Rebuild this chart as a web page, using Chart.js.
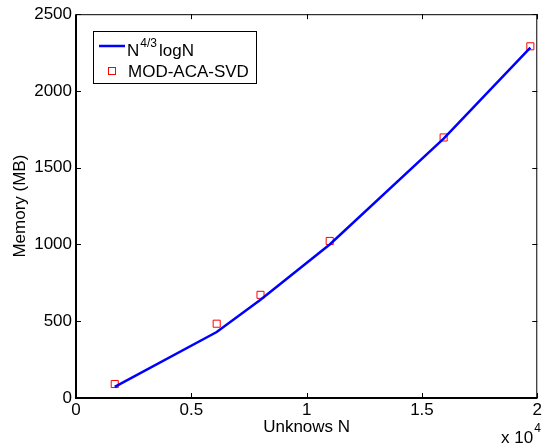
<!DOCTYPE html>
<html>
<head>
<meta charset="utf-8">
<script src="https://cdn.jsdelivr.net/npm/chart.js@4"></script>
<style>
  html, body { margin: 0; padding: 0; background: #fff; }
  #wrap { width: 544px; height: 448px; }
</style>
</head>
<body>
<div id="wrap"><canvas id="grafico" width="544" height="448"></canvas></div>
<script>
// Dados
const unknowns = [1680, 6100, 8000, 11000, 15940, 19700];
const memoriaTeorica = [72, 430, 640, 1000, 1690, 2282];   // N^{4/3}logN
const memoriaMedida = [91, 484, 672, 1023, 1697, 2291];     // MOD-ACA-SVD
const xTicks = [0, 5000, 10000, 15000, 20000];
const yTicks = [0, 500, 1000, 1500, 2000, 2500];

const fonte = '"Liberation Sans", Arial, sans-serif';

// Moldura e marcas de escala para dentro (estilo MATLAB)
const molduraPlugin = {
    id: 'moldura',
    afterDatasetsDraw(chart) {
        const { ctx, chartArea: a, scales } = chart;
        ctx.save();
        ctx.strokeStyle = '#000';
        ctx.lineWidth = 1;
        ctx.beginPath();
        xTicks.forEach(v => {
            const px = Math.round(scales.x.getPixelForValue(v)) + 0.5;
            ctx.moveTo(px, a.bottom); ctx.lineTo(px, a.bottom - 5);
            ctx.moveTo(px, a.top); ctx.lineTo(px, a.top + 5);
        });
        yTicks.forEach(v => {
            const py = Math.round(scales.y.getPixelForValue(v)) + 0.5;
            ctx.moveTo(a.left, py); ctx.lineTo(a.left + 5, py);
            ctx.moveTo(a.right, py); ctx.lineTo(a.right - 5, py);
        });
        ctx.stroke();
        // topo e direita
        ctx.beginPath();
        ctx.moveTo(a.left, a.top + 0.5); ctx.lineTo(a.right, a.top + 0.5);
        ctx.moveTo(a.right - 0.5, a.top); ctx.lineTo(a.right - 0.5, a.bottom);
        ctx.stroke();
        // esquerda e base
        ctx.lineWidth = 2;
        ctx.beginPath();
        ctx.moveTo(a.left, a.top); ctx.lineTo(a.left, a.bottom);
        ctx.lineTo(a.right, a.bottom);
        ctx.stroke();
        ctx.restore();
    },
    afterDraw(chart) {
        const { ctx } = chart;
        ctx.save();
        // Legenda
        ctx.fillStyle = '#fff';
        ctx.fillRect(93, 31, 163, 52);
        ctx.strokeStyle = '#000';
        ctx.lineWidth = 1;
        ctx.strokeRect(93.5, 31.5, 163, 52);
        ctx.strokeStyle = '#0000ff';
        ctx.lineWidth = 2.5;
        ctx.beginPath();
        ctx.moveTo(99, 46); ctx.lineTo(125, 46);
        ctx.stroke();
        ctx.fillStyle = '#000';
        ctx.textBaseline = 'alphabetic';
        ctx.textAlign = 'left';
        ctx.font = '17px ' + fonte;
        ctx.fillText('N', 127, 55.5);
        let x = 127 + ctx.measureText('N').width + 1;
        ctx.font = '12px ' + fonte;
        ctx.fillText('4/3', x, 47);
        x += ctx.measureText('4/3').width + 2;
        ctx.font = '17px ' + fonte;
        ctx.fillText('logN', x, 55.5);
        ctx.strokeStyle = '#ff0000';
        ctx.lineWidth = 1;
        ctx.strokeRect(108.5, 67.5, 7, 7);
        ctx.fillText('MOD-ACA-SVD', 128, 77);
        // x 10^4
        ctx.fillText('x 10', 501, 443);
        const w = ctx.measureText('x 10').width;
        ctx.font = '12px ' + fonte;
        ctx.fillText('4', 501 + w + 1, 432);
        ctx.restore();
    }
};

const ctx = document.getElementById('grafico').getContext('2d');
const grafico = new Chart(ctx, {
    type: 'scatter',
    data: {
        datasets: [
            {
                label: 'N4/3logN',
                data: unknowns.map((n, i) => ({ x: n, y: memoriaTeorica[i] })),
                showLine: true,
                borderColor: '#0000ff',
                borderWidth: 2.5,
                pointRadius: 0,
                tension: 0
            },
            {
                label: 'MOD-ACA-SVD',
                data: unknowns.map((n, i) => ({ x: n, y: memoriaMedida[i] })),
                showLine: false,
                pointStyle: 'rect',
                pointRadius: 5,
                pointBorderWidth: 1,
                pointBorderColor: '#ff0000',
                pointBackgroundColor: 'rgba(0,0,0,0)'
            }
        ]
    },
    options: {
        responsive: false,
        animation: false,
        devicePixelRatio: 1,
        layout: { padding: { top: 12, right: 5, left: 0, bottom: 0 } },
        plugins: {
            legend: { display: false },
            tooltip: { enabled: false }
        },
        scales: {
            x: {
                type: 'linear',
                min: 0,
                max: 20000,
                afterFit(scale) { scale.height = 50; },
                afterBuildTicks(scale) { scale.ticks = xTicks.map(v => ({ value: v })); },
                grid: { display: false, drawTicks: false },
                border: { display: false },
                ticks: {
                    padding: 2,
                    color: '#000',
                    font: { family: fonte, size: 17 },
                    maxRotation: 0,
                    callback: v => String(v / 10000)
                },
                title: {
                    display: true,
                    text: 'Unknows N',
                    color: '#000',
                    font: { family: fonte, size: 17 },
                    padding: { top: 0, bottom: 10 }
                }
            },
            y: {
                type: 'linear',
                min: 0,
                max: 2500,
                afterFit(scale) { scale.width = 76; },
                afterBuildTicks(scale) { scale.ticks = yTicks.map(v => ({ value: v })); },
                grid: { display: false, drawTicks: false },
                border: { display: false },
                ticks: {
                    padding: 4,
                    color: '#000',
                    font: { family: fonte, size: 17 },
                    callback: v => String(v)
                },
                title: {
                    display: true,
                    text: 'Memory (MB)',
                    color: '#000',
                    font: { family: fonte, size: 17 },
                    padding: { top: 10, bottom: 0 }
                }
            }
        }
    },
    plugins: [molduraPlugin]
});
</script>
</body>
</html>
